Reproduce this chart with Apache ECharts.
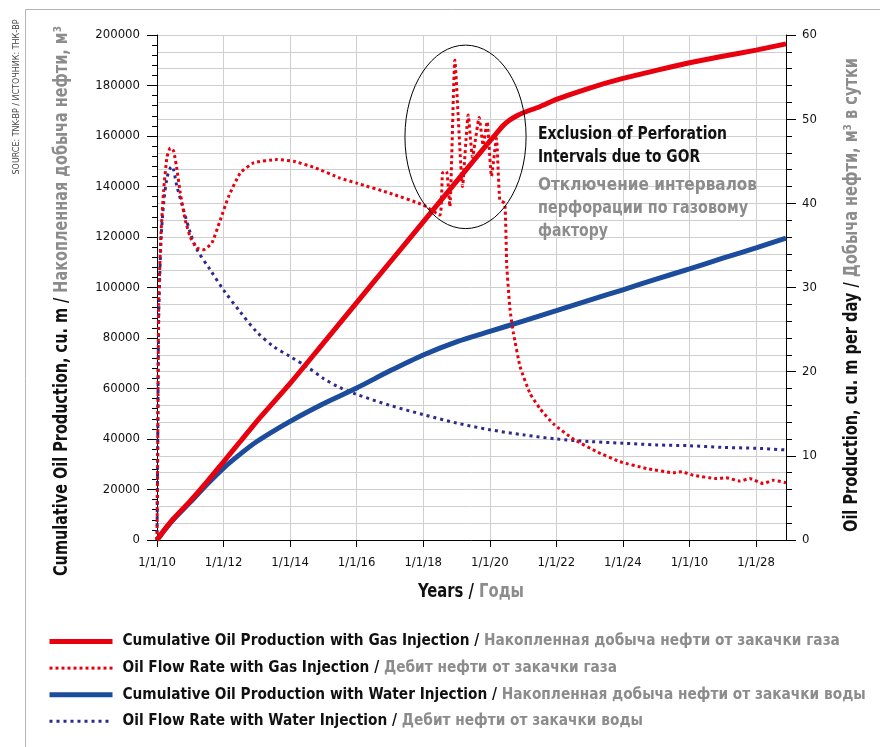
<!DOCTYPE html>
<html><head><meta charset="utf-8">
<script src="https://cdn.jsdelivr.net/npm/echarts@6/dist/echarts.min.js"></script>
<style>html,body{margin:0;padding:0;background:#fff}#c{width:880px;height:747px}</style>
</head><body><div id="c"></div>
<script>
// ---- data ----
const gasCumYears = [2010,2010.25,2010.5,2011,2011.5,2012,2012.5,2013,2014,2015,2016,2017,2018,2019,2019.5,2020,2020.25,2020.4,2020.6,2020.8,2021,2021.5,2022,2023,2024,2025,2026,2027,2028,2028.9];
const gasCum = [0,4500,8500,15500,23000,31000,39000,47000,62000,78000,94000,110000,126000,142000,150000,158000,161800,164100,166300,167900,169200,171600,174500,179000,182800,186000,189000,191600,194000,196500];

const waterCumYears = [2010,2010.25,2010.5,2011,2011.5,2012,2012.5,2013,2014,2015,2016,2017,2018,2019,2020,2021,2022,2023,2024,2025,2026,2027,2028,2028.9];
const waterCum = [0,4300,8200,15000,22000,28500,34000,39000,47000,54000,60200,67000,73300,78500,82600,86700,90800,95000,99100,103300,107400,111600,115700,119600];

const gasRateYears = [2010,2010.02,2010.05,2010.12,2010.2,2010.3,2010.4,2010.5,2010.6,2010.7,2010.85,2011,2011.2,2011.4,2011.65,2011.9,2012.15,2012.5,2012.9,2013.6,2014.1,2014.7,2015.5,2016,2017,2018,2018.5,2018.58,2018.7,2018.8,2018.95,2019.18,2019.35,2019.48,2019.68,2019.8,2019.92,2020.05,2020.2,2020.3,2020.45,2020.51,2020.61,2020.71,2020.91,2021.21,2021.51,2021.91,2022.51,2023.21,2023.91,2024.71,2025.51,2025.77,2026.11,2026.82,2027.1,2027.51,2027.81,2028.22,2028.52,2028.9];
const gasRate = [0,10,28,36.4,41.6,45.5,46.6,46.2,44.0,41.2,38.0,36.0,34.7,34.5,35.3,38.0,40.8,43.6,44.8,45.2,45.0,44.3,43.0,42.4,41.2,39.8,38.6,43.6,43.8,39.6,57.0,42.0,50.5,45.5,50.2,46.9,49.7,43.2,47.7,40.4,40.0,32.5,27.3,24.6,20.6,17.4,15.6,13.8,12.0,10.5,9.3,8.5,8.0,8.1,7.7,7.3,7.4,7.0,7.3,6.7,7.1,6.8];

const waterRateYears = [2010,2010.02,2010.05,2010.12,2010.2,2010.3,2010.4,2010.45,2010.6,2010.8,2011,2011.2,2011.6,2012,2012.5,2013,2013.5,2014,2014.5,2015,2015.45,2016,2017,2018,2019,2020,2021,2022,2023,2024,2025,2026,2027,2028,2028.9];
const waterRate = [0,10,26,35.5,40,43.0,44.2,44.4,42.0,39.2,36.5,34.5,32.1,29.7,27.1,24.7,23.0,21.8,20.6,19.2,18.2,17.3,16.0,14.9,13.9,13.1,12.5,12.0,11.7,11.5,11.3,11.2,11.0,10.9,10.7];

const xTickYears = [2010,2012,2014,2016,2018,2020,2022,2024,2026,2028];
const xTickLabels = ['1/1/10','1/1/12','1/1/14','1/1/16','1/1/18','1/1/20','1/1/22','1/1/24','1/1/10','1/1/28'];

const seriesNames = [
  ['Cumulative Oil Production with Gas Injection / ','Накопленная добыча нефти от закачки газа'],
  ['Oil Flow Rate with Gas Injection / ','Дебит нефти от закачки газа'],
  ['Cumulative Oil Production with Water Injection / ','Накопленная добыча нефти от закачки воды'],
  ['Oil Flow Rate with Water Injection / ','Дебит нефти от закачки воды']
];

// ---- styling ----
const FONT = '"DejaVu Sans Condensed","Liberation Sans Narrow","DejaVu Sans",sans-serif';
const RED = '#e8000e', BLUE = '#1c4c9c', NAVY = '#2d2a8c', GRAY = '#8c8c8c', GRID = '#cfcfcf';
const zip = (xs, ys) => xs.map((x, i) => [x, ys[i]]);

const mctx = document.createElement('canvas').getContext('2d');
function textWidth(str, font) { mctx.font = font; return mctx.measureText(str).width; }

// legend font sized so the first (longest) entry spans ~718px like the reference
const legendFontSize = Math.min(17, 17 * 718 / textWidth(seriesNames[0][0] + seriesNames[0][1], 'bold 17px ' + FONT));

const chart = echarts.init(document.getElementById('c'), null, {renderer: 'canvas'});
const names = seriesNames.map(p => p[0] + p[1]);
const legendWidths = [5, 3, 5, 3];
const option = {
  animation: false,
  backgroundColor: '#fff',
  textStyle: {fontFamily: FONT},
  grid: {left: 157, right: 94, top: 35, bottom: 207},
  legend: {
    orient: 'vertical', left: 47, top: 634, padding: 0,
    itemWidth: 63, itemHeight: 12, itemGap: 11.6,
    itemStyle: {opacity: 0},
    data: names.map((n, i) => ({name: n, lineStyle: {width: legendWidths[i]}})),
    formatter: n => { const p = seriesNames[names.indexOf(n)]; return '{b|' + p[0] + '}{g|' + p[1] + '}'; },
    textStyle: {
      fontFamily: FONT, padding: [0,0,0,5],
      rich: {
        b: {fontFamily: FONT, fontWeight: 'bold', fontSize: legendFontSize, color: '#111', lineHeight: 16},
        g: {fontFamily: FONT, fontWeight: 'bold', fontSize: legendFontSize, color: GRAY, lineHeight: 16}
      }
    }
  },
  xAxis: {
    type: 'value', min: 2010, max: 2028.9, interval: 2,
    axisLine: {lineStyle: {color: '#000', width: 1}},
    axisTick: {show: true, length: 7, lineStyle: {color: '#000'}},
    axisLabel: {fontFamily: FONT, fontSize: 13, color: '#111', margin: 16, showMaxLabel: false,
      formatter: v => { const i = xTickYears.indexOf(Math.round(v * 100) / 100); return i >= 0 ? xTickLabels[i] : ''; }},
    splitLine: {show: true, lineStyle: {color: GRID, width: 1}}
  },
  yAxis: [
    {
      type: 'value', min: 0, max: 200000, interval: 20000, position: 'left',
      axisLine: {show: true, lineStyle: {color: '#000', width: 1}},
      axisTick: {show: true, length: 10, lineStyle: {color: '#000'}},
      minorTick: {show: true, splitNumber: 5, length: 5, lineStyle: {color: '#000'}},
      axisLabel: {fontFamily: FONT, fontSize: 13, color: '#111', margin: 17, formatter: v => String(v)},
      splitLine: {show: false}
    },
    {
      type: 'value', min: 0, max: 60, interval: 10, position: 'right',
      axisLine: {show: true, lineStyle: {color: '#000', width: 1}},
      axisTick: {show: true, length: 10, lineStyle: {color: '#000'}},
      minorTick: {show: true, splitNumber: 5, length: 6, lineStyle: {color: '#000'}},
      axisLabel: {fontFamily: FONT, fontSize: 13, color: '#111', margin: 16},
      splitLine: {show: true, lineStyle: {color: GRID, width: 1}},
      minorSplitLine: {show: true, lineStyle: {color: GRID, width: 1}}
    }
  ],
  series: [
    {name: names[0], type: 'line', yAxisIndex: 0, data: zip(gasCumYears, gasCum), symbol: 'none', smooth: 0.2,
     z: 5, lineStyle: {color: RED, width: 5}, itemStyle: {color: RED}},
    {name: names[1], type: 'line', yAxisIndex: 1, data: zip(gasRateYears, gasRate), symbol: 'none', smooth: 0.15,
     z: 4, lineStyle: {color: RED, width: 3, type: [3, 3], cap: 'butt'}, itemStyle: {color: RED}},
    {name: names[2], type: 'line', yAxisIndex: 0, data: zip(waterCumYears, waterCum), symbol: 'none', smooth: 0.3,
     z: 3, lineStyle: {color: BLUE, width: 5}, itemStyle: {color: BLUE}},
    {name: names[3], type: 'line', yAxisIndex: 1, data: zip(waterRateYears, waterRate), symbol: 'none', smooth: 0.3,
     z: 2, lineStyle: {color: NAVY, width: 3, type: [3, 4], cap: 'butt'}, itemStyle: {color: NAVY}}
  ]
};
chart.setOption(option);

// annotation ellipse anchored to data coordinates (right axis)
const c = chart.convertToPixel({seriesIndex: 1}, [2019.27, 47.9]);
const e = chart.convertToPixel({seriesIndex: 1}, [2019.27 + 1.82, 47.9 - 10.9]);
const rx = Math.abs(e[0] - c[0]), ry = Math.abs(e[1] - c[1]);

// text helper: two-tone (black + gray) text condensed horizontally to a target length
function twoTone(x, y, black, gray, size, target, rot) {
  const font = 'bold ' + size + 'px ' + FONT;
  const w = textWidth(black + gray, font);
  const s = Math.min(1, target / w);
  return {
    type: 'text', x: x, y: y, rotation: rot || 0, scaleX: s, z: 10,
    style: {
      text: (black ? '{b|' + black + '}' : '') + (gray ? '{g|' + gray + '}' : ''),
      rich: {
        b: {fontFamily: FONT, fontWeight: 'bold', fontSize: size, fill: '#111', color: '#111'},
        g: {fontFamily: FONT, fontWeight: 'bold', fontSize: size, fill: GRAY, color: GRAY}
      },
      align: 'center', verticalAlign: 'middle'
    }
  };
}
function annoLine(y, text, color, target) {
  const font = 'bold 17px ' + FONT;
  const s = Math.min(1, target / textWidth(text, font));
  return {type: 'text', x: 538, y: y, scaleX: s, z: 10,
    style: {text: text, fill: color, font: font, align: 'left', verticalAlign: 'middle'}};
}
const srcFont = '9px ' + FONT;
const srcText = 'SOURCE: TNK-BP / ИСТОЧНИК: ТНК-ВР';
chart.setOption({
  graphic: [
    {type: 'line', shape: {x1: 25.5, y1: 9.5, x2: 880, y2: 9.5}, style: {stroke: '#b5b5b5', lineWidth: 1}},
    {type: 'line', shape: {x1: 25.5, y1: 9.5, x2: 25.5, y2: 747}, style: {stroke: '#b5b5b5', lineWidth: 1}},
    {type: 'text', x: 17, y: 97, rotation: Math.PI / 2, scaleX: Math.min(1, 155 / textWidth(srcText, srcFont)),
     style: {text: srcText, font: srcFont, fill: '#444', align: 'center', verticalAlign: 'middle'}},
    twoTone(62, 301, 'Cumulative Oil Production, cu. m / ', 'Накопленная добыча нефти, м³', 19, 550, Math.PI / 2),
    twoTone(852, 295, 'Oil Production, cu. m per day / ', 'Добыча нефти, м³ в сутки', 19, 474, Math.PI / 2),
    twoTone(471, 592, 'Years / ', 'Годы', 19, 106, 0),
    {type: 'ellipse', shape: {cx: c[0], cy: c[1], rx: rx, ry: ry}, z: 10, style: {fill: null, stroke: '#000', lineWidth: 1}},
    annoLine(135, 'Exclusion of Perforation', '#111', 189),
    annoLine(158, 'Intervals due to GOR', '#111', 162),
    annoLine(186, 'Отключение интервалов', GRAY, 232),
    annoLine(209, 'перфорации по газовому', GRAY, 210),
    annoLine(232, 'фактору', GRAY, 70)
  ]
});
</script></body></html>
